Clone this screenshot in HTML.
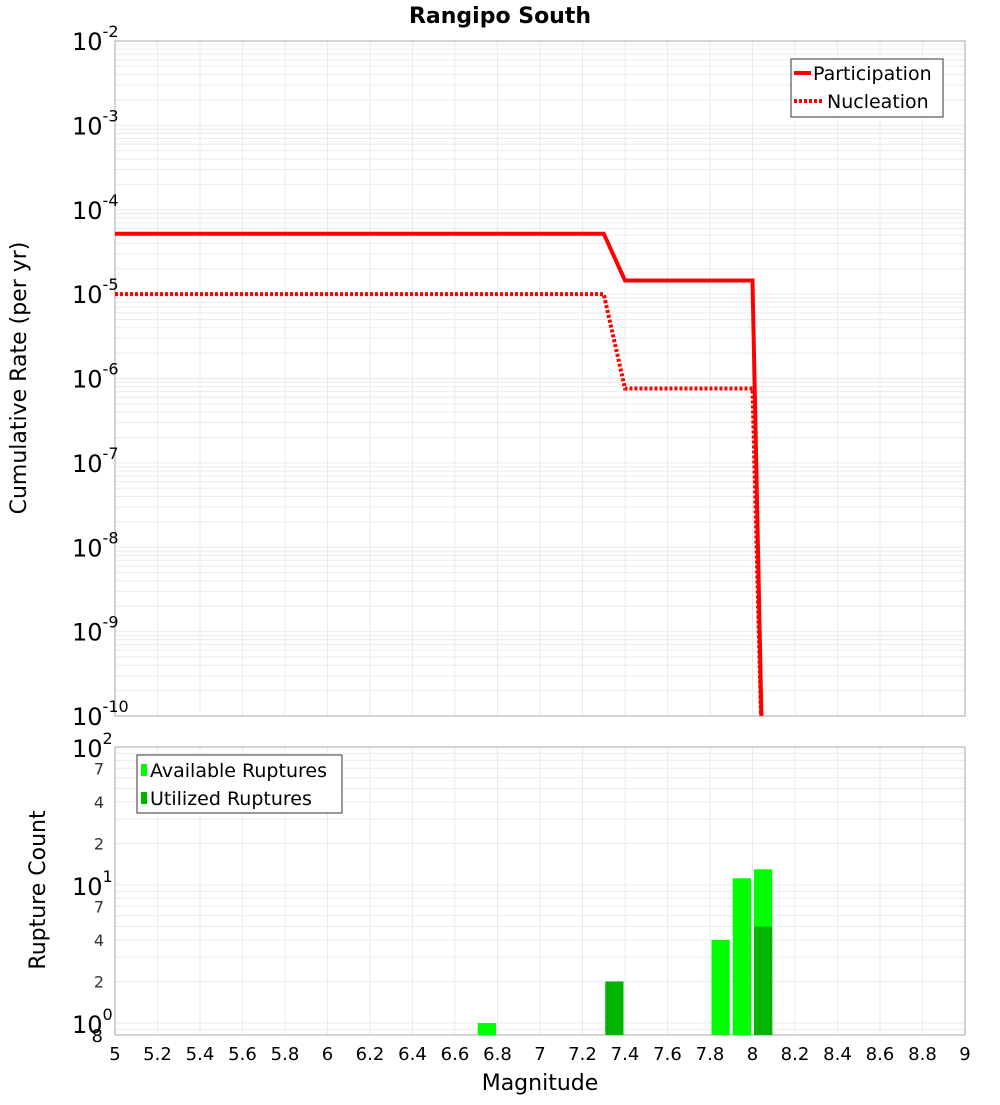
<!DOCTYPE html>
<html><head><meta charset="utf-8"><style>
body{margin:0;background:#fff;font-family:"Liberation Sans","DejaVu Sans",sans-serif}
svg text{font-family:"DejaVu Sans","Liberation Sans",sans-serif}
</style></head><body>
<svg id="c" width="1000" height="1100" xmlns="http://www.w3.org/2000/svg"></svg>
<script>
const magTicks=[5,5.2,5.4,5.6,5.8,6,6.2,6.4,6.6,6.8,7,7.2,7.4,7.6,7.8,8,8.2,8.4,8.6,8.8,9];
const partMags=[5,7.3,7.4,8.0,8.05];
const partRates=[5.2e-5,5.2e-5,1.45e-5,1.45e-5,1e-11];
const nuclMags=[5,7.3,7.4,8.0,8.05];
const nuclRates=[1e-5,1e-5,7.6e-7,7.6e-7,1e-11];
const binCenters=[6.75,7.35,7.85,7.95,8.05];
const availCounts=[1,0,4,11.2,13];
const utilCounts=[0,2,0,0,5];
const topDecades=[-2,-3,-4,-5,-6,-7,-8,-9,-10];
const botDecades=[2,1,0];

const S=document.getElementById('c');const NS='http://www.w3.org/2000/svg';
function el(t,a,p){const e=document.createElementNS(NS,t);for(const k in a)e.setAttribute(k,a[k]);(p||S).appendChild(e);return e;}
const X0=115,X1=965;
const x=m=>X0+(m-5)/4*(X1-X0);
const T0=41,T1=716;
const yT=v=>T0+(-2-Math.log10(v))/8*(T1-T0);
const B0=747,B1=1035;
const yB=v=>B0+(2-Math.log10(v))*138;

// title
let t=el('text',{x:500,y:23,'text-anchor':'middle','font-size':22,'font-weight':'bold'});t.textContent='Rangipo South';


// top plot grid
let g=el('g',{});
for(let d=-10;d<-2;d++)for(let k=1;k<10;k++){const yy=yT(k*Math.pow(10,d));el('line',{x1:X0,x2:X1,y1:yy,y2:yy,stroke:'#ebebeb','stroke-width':1},g);}
magTicks.forEach(m=>{el('line',{x1:x(m),x2:x(m),y1:T0,y2:T1,stroke:'#ebebeb'},g);el('line',{x1:x(m),x2:x(m),y1:B0,y2:B1,stroke:'#ebebeb'},g);});
for(let d=-1;d<2;d++)for(let k=1;k<10;k++){const v=k*Math.pow(10,d);const yy=yB(v);if(yy>=B0&&yy<=B1)el('line',{x1:X0,x2:X1,y1:yy,y2:yy,stroke:'#ebebeb'},g);}
let f=el('rect',{x:X0,y:T0,width:X1-X0,height:T1-T0,fill:'none',stroke:'#aaa'});
f=el('rect',{x:X0,y:B0,width:X1-X0,height:B1-B0,fill:'none',stroke:'#aaa'});

// top y tick labels
topDecades.forEach(d=>{const tt=el('text',{x:72,y:yT(Math.pow(10,d))+9,'font-size':24});tt.innerHTML='10<tspan dy="-13" font-size="16">'+d+'</tspan>';
});
t=el('text',{x:0,y:0,'font-size':22,'text-anchor':'middle',transform:'translate(26,378) rotate(-90)'});t.textContent='Cumulative Rate (per yr)';


// series
const clipT=el('clipPath',{id:'ct'});el('rect',{x:X0,y:T0,width:X1-X0,height:T1-T0},clipT);
let p=el('polyline',{points:partMags.map((m,i)=>x(m)+','+yT(partRates[i])).join(' '),fill:'none',stroke:'#f00','stroke-width':4,'clip-path':'url(#ct)'});

p=el('polyline',{points:nuclMags.map((m,i)=>x(m)+','+yT(nuclRates[i])).join(' '),fill:'none',stroke:'#f00','stroke-width':4,'stroke-dasharray':'3,2','clip-path':'url(#ct)'});


// top legend
let lg=el('g',{});
el('rect',{x:791,y:59,width:152,height:58,fill:'#fff',stroke:'#333'},lg);
el('line',{x1:794,x2:811,y1:73,y2:73,stroke:'#f00','stroke-width':4},lg);
t=el('text',{x:813,y:80,'font-size':19},lg);t.textContent='Participation';
el('line',{x1:794,x2:822,y1:101,y2:101,stroke:'#f00','stroke-width':4,'stroke-dasharray':'3,2'},lg);
t=el('text',{x:827,y:108,'font-size':19},lg);t.textContent='Nucleation';

// bars
const bw=x(5.1)-x(5)-3;
binCenters.forEach((m,i)=>{
 if(availCounts[i]>0){const r=el('rect',{x:x(m)-bw/2,y:yB(availCounts[i]),width:bw,height:B1-yB(availCounts[i]),fill:'#00ff00'});
 }
 if(utilCounts[i]>0){const r=el('rect',{x:x(m)-bw/2,y:yB(utilCounts[i]),width:bw,height:B1-yB(utilCounts[i]),fill:'#00b400'});
 }
});

// bottom y labels
botDecades.forEach(d=>{const tt=el('text',{x:72,y:yB(Math.pow(10,d))+10,'font-size':24});tt.innerHTML='10<tspan dy="-13" font-size="16">'+d+'</tspan>';
});
[[7,10],[4,10],[2,10],[7,1],[4,1],[2,1]].forEach(a=>{const tt=el('text',{x:104,y:yB(a[0]*a[1])+6,'font-size':16,'text-anchor':'end',fill:'#333'});tt.textContent=a[0];
});
t=el('text',{x:103,y:1042,'font-size':18,'text-anchor':'end'});t.textContent='8';
t=el('text',{x:0,y:0,'font-size':22,'text-anchor':'middle',transform:'translate(45,890) rotate(-90)'});t.textContent='Rupture Count';


// bottom legend
lg=el('g',{});
el('rect',{x:137,y:755,width:205,height:58,fill:'#fff',stroke:'#333'},lg);
el('rect',{x:141,y:764,width:6,height:12,fill:'#00ff00'},lg);
t=el('text',{x:150,y:777,'font-size':19},lg);t.textContent='Available Ruptures';
el('rect',{x:141,y:792,width:6,height:12,fill:'#00b400'},lg);
t=el('text',{x:150,y:805,'font-size':19},lg);t.textContent='Utilized Ruptures';

// x ticks
magTicks.forEach(m=>{const tt=el('text',{x:x(m),y:1060,'font-size':18,'text-anchor':'middle'});tt.textContent=String(m);
});
t=el('text',{x:540,y:1090,'font-size':22,'text-anchor':'middle'});t.textContent='Magnitude';

</script>
</body></html>
